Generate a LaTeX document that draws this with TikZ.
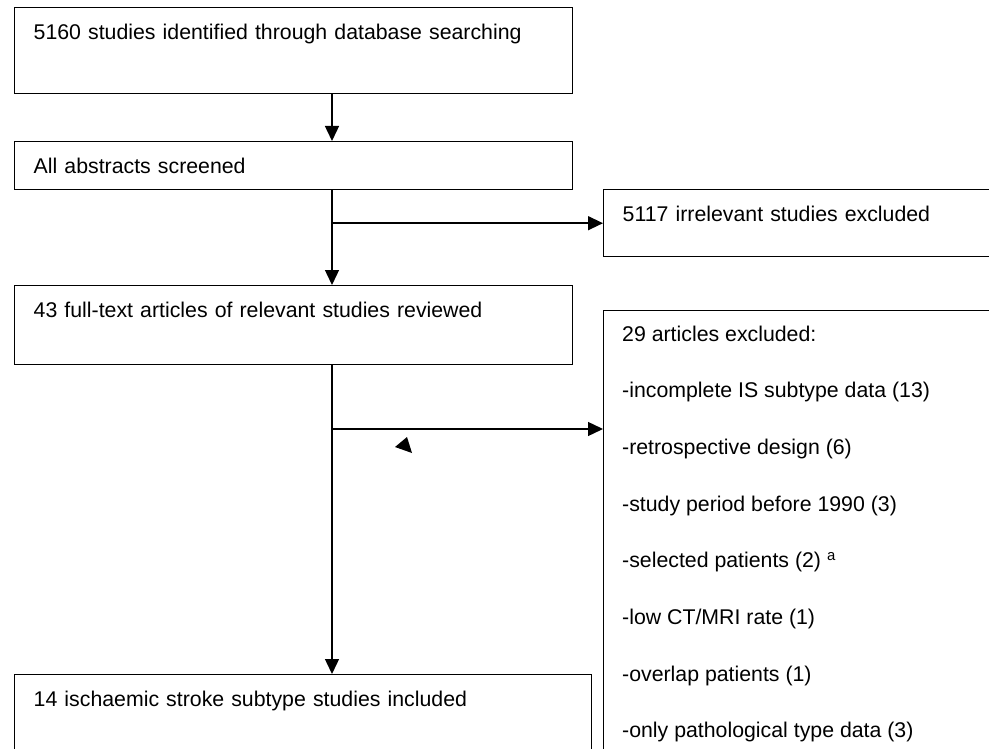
\documentclass[tikz,border=0pt]{standalone}
\usepackage{fontspec}
\setmainfont{Liberation Sans}
\usetikzlibrary{arrows.meta,calc}

\begin{document}
\begin{tikzpicture}[x=1pt,y=-1pt,
  box/.style={draw,line width=1.4pt,anchor=north west,inner xsep=19pt,inner ysep=0pt,text height=32pt,align=left,font=\fontsize{21.3}{25}\selectfont},
  txt/.style={inner sep=0pt,anchor=base west,font=\fontsize{21.3}{25}\selectfont},
  arr/.style={line width=1.4pt,-{Triangle[length=15pt,width=14pt]}}]
\useasboundingbox (0,0) rectangle (989,749);
\clip (0,0) rectangle (989,749);
\node[box,text width=520pt,text depth=54pt] (ident) at (14,7) {5160 studies identified through database searching};
\node[box,text width=520pt,text depth=16pt] (screen) at (14,141) {All abstracts screened};
\node[box,text width=420pt,text depth=35pt] (irrel) at (603,189) {5117 irrelevant studies excluded};
\node[box,text width=520pt,text depth=47pt] (review) at (14,285) {43 full-text articles of relevant studies reviewed};
\node[box,text width=539pt,text depth=100pt] (incl) at (14,674) {14 ischaemic stroke subtype studies included};
\node[draw,line width=1.4pt,anchor=north west,minimum width=460pt,minimum height=500pt] (excl) at (603,310) {};
\foreach \t [count=\i] in {{29 articles excluded:},{-incomplete IS subtype data (13)},{-retrospective design (6)},
  {-study period before 1990 (3)},{-selected patients (2) \textsuperscript{a}},{-low CT/MRI rate (1)},
  {-overlap patients (1)},{-only pathological type data (3)}}
  \node[txt] (exl\i) at (622,{341+56.7*(\i-1)}) {\t};
\coordinate (trunk) at (332,0);
\coordinate (fork) at (332,429);
\draw[arr] (ident.south -| trunk) -- (screen.north -| trunk);
\draw[arr] (screen.south -| trunk) -- (review.north -| trunk);
\draw[arr] (irrel.west -| trunk) -- (irrel.west);
\draw[arr] (review.south -| trunk) -- (incl.north -| trunk);
\draw[arr] (fork) -- (fork -| excl.west);
\fill (395,447) -- (407,437) -- (412,453) -- cycle;
\end{tikzpicture}
\end{document}
